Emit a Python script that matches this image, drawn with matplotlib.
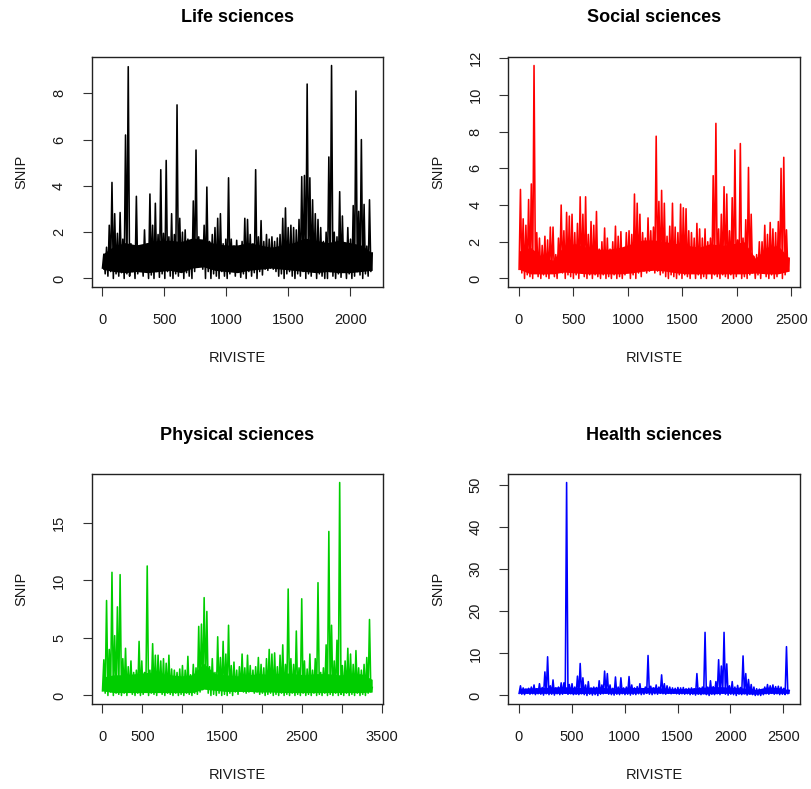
import matplotlib
matplotlib.use('Agg')
import matplotlib.pyplot as plt
import numpy as np

plt.rcParams['font.family'] = ['Liberation Sans', 'DejaVu Sans']

# number of journals per area
n_life = 2175
n_social = 2480
n_physical = 3380
n_health = 2557

# SNIP, low / high pairs along the journals
life_snip = [
    0.45, 1.05, 0.2, 1.35, 0.1, 2.3, 0.3, 4.15, 0.0, 2.8, 0.2, 1.95, 0.1, 2.85, 0.25, 1.7,
    0.0, 6.2, 0.2, 9.15, 0.1, 1.5, 0.3, 1.3, 0.0, 3.55, 0.2, 1.4, 0.35, 1.2, 0.1, 2.1,
    0.4, 1.5, 0.0, 3.65, 0.15, 2.3, 0.0, 3.25, 0.3, 1.9, 0.05, 4.7, 0.2, 1.95, 0.0, 5.1,
    0.3, 1.8, 0.1, 2.8, 0.0, 1.9, 0.2, 7.5, 0.1, 2.6, 0.3, 2.0, 0.0, 2.1, 0.25, 1.7,
    0.1, 1.6, 0.0, 3.35, 0.3, 5.55, 0.5, 1.8, 0.7, 1.5, 0.4, 2.3, 0.0, 3.95, 0.3, 1.6,
    0.0, 1.9, 0.2, 2.2, 0.1, 2.6, 0.0, 2.8, 0.3, 1.5, 0.1, 1.7, 0.0, 4.35, 0.2, 1.7,
    0.4, 1.4, 0.1, 1.65, 0.3, 1.3, 0.05, 1.6, 0.2, 2.6, 0.0, 2.55, 0.3, 1.9, 0.1, 1.5,
    0.25, 4.7, 0.0, 1.8, 0.3, 2.5, 0.15, 1.6, 0.4, 1.9, 0.35, 1.7, 0.45, 1.8, 0.4, 1.6,
    0.3, 1.75, 0.1, 1.9, 0.2, 2.6, 0.0, 3.05, 0.2, 2.2, 0.3, 2.3, 0.1, 2.2, 0.0, 2.1,
    0.2, 2.55, 0.1, 4.4, 0.3, 4.45, 0.0, 8.4, 0.2, 4.35, 0.1, 3.4, 0.3, 2.8, 0.0, 2.55,
    0.2, 2.2, 0.1, 1.6, 0.0, 2.0, 0.0, 5.25, 0.3, 9.2, 0.1, 2.0, 0.0, 1.8, 0.2, 3.75,
    0.05, 2.7, 0.3, 1.5, 0.0, 2.2, 0.2, 1.7, 0.0, 3.15, 0.1, 8.1, 0.3, 2.9, 0.15, 6.0,
    0.0, 3.2, 0.2, 1.4, 0.1, 3.4, 0.3, 1.1,
]

social_snip = [
    0.5, 4.85, 0.3, 3.25, 0.0, 2.9, 0.2, 4.3, 0.1, 5.15, 0.0, 11.6, 0.3, 2.5, 0.1, 2.2,
    0.0, 1.8, 0.2, 2.3, 0.1, 2.1, 0.0, 2.8, 0.3, 2.8, 0.1, 1.3, 0.0, 2.2, 0.4, 4.0,
    0.3, 2.6, 0.0, 3.6, 0.2, 3.4, 0.1, 3.5, 0.0, 2.5, 0.2, 3.0, 0.0, 4.45, 0.3, 3.5,
    0.1, 4.45, 0.0, 2.4, 0.2, 3.1, 0.0, 2.9, 0.2, 3.65, 0.1, 1.6, 0.0, 2.0, 0.2, 2.75,
    0.0, 2.2, 0.1, 1.6, 0.0, 2.0, 0.2, 2.85, 0.0, 2.3, 0.1, 2.55, 0.0, 1.6, 0.2, 2.5,
    0.4, 2.6, 0.0, 2.4, 0.2, 4.6, 0.0, 4.1, 0.3, 3.5, 0.1, 2.5, 0.4, 2.2, 0.3, 3.3,
    0.4, 2.6, 0.5, 2.8, 0.3, 7.75, 0.4, 4.2, 0.2, 4.8, 0.3, 4.1, 0.1, 2.3, 0.0, 2.85,
    0.2, 4.1, 0.1, 2.8, 0.0, 2.5, 0.2, 4.05, 0.0, 3.85, 0.2, 3.8, 0.1, 2.6, 0.0, 2.5,
    0.3, 2.2, 0.0, 3.0, 0.2, 2.7, 0.0, 2.2, 0.1, 2.7, 0.0, 2.0, 0.3, 2.2, 0.0, 5.6,
    0.2, 8.45, 0.1, 2.7, 0.0, 3.5, 0.2, 5.0, 0.1, 4.6, 0.0, 2.6, 0.2, 4.4, 0.0, 7.0,
    0.1, 2.1, 0.3, 7.35, 0.0, 2.2, 0.1, 3.2, 0.0, 6.05, 0.2, 3.5, 0.3, 1.2, 0.0, 1.3,
    0.2, 2.0, 0.0, 2.0, 0.3, 2.9, 0.1, 2.4, 0.0, 3.05, 0.2, 2.7, 0.0, 2.5, 0.1, 3.1,
    0.3, 6.0, 0.0, 6.6, 0.2, 2.65, 0.4, 1.1,
]

physical_snip = [
    0.4, 3.1, 0.2, 8.25, 0.0, 4.0, 0.3, 10.7, 0.0, 5.2, 0.2, 7.7, 0.1, 10.5, 0.0, 3.2,
    0.2, 4.1, 0.0, 2.5, 0.3, 3.0, 0.1, 2.0, 0.0, 2.2, 0.2, 4.7, 0.0, 3.0, 0.1, 2.0,
    0.3, 11.25, 0.0, 2.2, 0.2, 4.5, 0.1, 3.5, 0.0, 3.5, 0.3, 3.0, 0.1, 3.2, 0.0, 2.8,
    0.2, 3.5, 0.1, 2.3, 0.0, 2.2, 0.2, 2.0, 0.0, 2.3, 0.1, 2.6, 0.0, 2.2, 0.2, 3.4,
    0.1, 1.8, 0.0, 2.7, 0.2, 2.4, 0.1, 6.0, 0.3, 6.2, 0.5, 8.5, 0.7, 7.3, 0.2, 2.5,
    0.0, 3.2, 0.1, 2.0, 0.0, 5.1, 0.2, 3.3, 0.0, 4.7, 0.1, 3.6, 0.0, 6.1, 0.2, 2.6,
    0.0, 2.9, 0.3, 2.2, 0.1, 2.5, 0.4, 3.6, 0.3, 2.4, 0.2, 3.5, 0.3, 2.6, 0.4, 2.2,
    0.2, 2.5, 0.3, 3.3, 0.1, 2.7, 0.2, 2.4, 0.0, 3.2, 0.1, 4.0, 0.2, 3.6, 0.0, 3.7,
    0.1, 2.5, 0.0, 3.5, 0.2, 4.4, 0.0, 2.7, 0.1, 9.25, 0.0, 3.2, 0.2, 2.7, 0.0, 5.6,
    0.1, 2.4, 0.0, 8.4, 0.2, 3.0, 0.0, 2.3, 0.1, 3.6, 0.0, 2.2, 0.2, 3.2, 0.0, 9.8,
    0.1, 2.0, 0.0, 2.4, 0.2, 4.4, 0.0, 14.25, 0.1, 6.1, 0.0, 3.0, 0.2, 4.8, 0.0, 18.5,
    0.1, 2.6, 0.0, 3.0, 0.2, 4.1, 0.0, 3.6, 0.1, 2.7, 0.0, 3.9, 0.2, 2.4, 0.0, 2.2,
    0.1, 2.7, 0.0, 3.3, 0.2, 6.6, 0.3, 0.7,
]

health_snip = [
    0.5, 2.3, 0.3, 1.8, 0.2, 1.5, 0.5, 1.7, 0.3, 2.0, 0.4, 2.5, 0.2, 1.6, 0.4, 2.8,
    0.3, 1.9, 0.1, 5.6, 0.4, 9.2, 0.2, 2.3, 0.3, 3.7, 0.1, 1.8, 0.4, 2.0, 0.2, 3.0,
    0.3, 3.0, 0.5, 50.6, 0.3, 2.6, 0.4, 2.8, 0.2, 2.0, 0.3, 4.6, 0.2, 7.6, 0.4, 4.2,
    0.2, 2.5, 0.0, 3.3, 0.3, 1.8, 0.1, 2.0, 0.2, 1.9, 0.0, 3.5, 0.3, 2.5, 0.4, 5.8,
    0.5, 5.2, 0.3, 2.5, 0.2, 1.7, 0.1, 4.4, 0.3, 2.0, 0.2, 4.2, 0.4, 1.8, 0.2, 2.0,
    0.3, 4.5, 0.1, 2.5, 0.3, 1.8, 0.2, 2.1, 0.4, 2.8, 0.2, 1.6, 0.3, 2.0, 0.5, 9.5,
    0.3, 2.2, 0.2, 1.8, 0.4, 2.5, 0.3, 2.0, 0.5, 4.9, 0.4, 2.8, 0.3, 2.3, 0.5, 2.0,
    0.4, 1.8, 0.5, 1.7, 0.4, 1.9, 0.3, 1.8, 0.4, 1.9, 0.3, 1.6, 0.4, 1.7, 0.2, 1.8,
    0.3, 1.6, 0.1, 5.2, 0.3, 1.8, 0.2, 2.0, 0.4, 15.0, 0.2, 2.0, 0.0, 3.5, 0.3, 2.1,
    0.2, 3.3, 0.4, 8.5, 0.2, 7.0, 0.5, 15.0, 0.3, 7.5, 0.1, 2.3, 0.3, 3.3, 0.2, 2.0,
    0.0, 2.4, 0.3, 1.9, 0.2, 9.4, 0.4, 5.2, 0.1, 3.8, 0.3, 2.6, 0.2, 2.0, 0.0, 1.6,
    0.1, 1.5, 0.0, 1.4, 0.2, 2.0, 0.4, 2.6, 0.3, 2.3, 0.5, 2.5, 0.3, 2.1, 0.4, 2.2,
    0.2, 2.0, 0.3, 1.7, 0.2, 11.6, 0.4, 1.2,
]

# dense middle of each band (where the line overlaps into a solid strip)
life_core_lo = [0.4, 0.3, 0.25, 0.3, 0.25, 0.3, 0.35, 0.25, 0.45, 0.5, 0.35, 0.3,
                0.25, 0.35, 0.4, 0.45, 0.4, 0.35, 0.3, 0.25, 0.3, 0.25, 0.25, 0.3, 0.35]
life_core_hi = [1.05, 1.4, 1.55, 1.45, 1.55, 1.65, 1.65, 1.6, 1.75, 1.7, 1.5, 1.45,
                1.45, 1.55, 1.45, 1.35, 1.45, 1.55, 1.75, 1.65, 1.55, 1.65, 1.55, 1.45, 1.1]
social_core_lo = [0.5, 0.25, 0.25, 0.25, 0.35, 0.3, 0.25, 0.25, 0.25, 0.25, 0.3, 0.4,
                  0.45, 0.4, 0.3, 0.25, 0.25, 0.25, 0.25, 0.25, 0.25, 0.3, 0.25, 0.25, 0.4]
social_core_hi = [1.5, 1.7, 1.2, 1.0, 1.8, 1.9, 1.7, 1.6, 1.6, 1.7, 1.9, 2.1,
                  2.1, 2.0, 1.9, 1.8, 1.7, 1.9, 1.8, 1.9, 2.0, 1.1, 1.7, 1.8, 1.1]
physical_core_lo = [0.4, 0.25, 0.25, 0.25, 0.25, 0.25, 0.25, 0.25, 0.25, 0.55, 0.45, 0.35,
                    0.35, 0.35, 0.3, 0.3, 0.25, 0.25, 0.25, 0.25, 0.25, 0.25, 0.25, 0.25, 0.3]
physical_core_hi = [1.6, 1.8, 1.8, 1.9, 2.0, 1.9, 1.8, 1.7, 1.8, 2.8, 1.9, 1.8,
                    1.7, 1.8, 1.9, 1.8, 2.0, 1.9, 1.8, 1.9, 1.9, 1.8, 1.8, 1.9, 1.4]
health_core_lo = [0.5, 0.5, 0.5, 0.5, 0.5, 0.4, 0.5, 0.5, 0.5, 0.5, 0.5, 0.6,
                  0.6, 0.5, 0.5, 0.5, 0.4, 0.4, 0.5, 0.5, 0.4, 0.3, 0.5, 0.5, 0.5]
health_core_hi = [1.7, 1.8, 1.9, 2.0, 2.1, 1.9, 1.9, 2.0, 1.8, 1.8, 1.9, 1.9,
                  2.0, 1.7, 1.6, 1.7, 1.9, 2.1, 2.1, 1.9, 1.8, 1.4, 2.0, 1.9, 1.4]

titles = ['Life sciences', 'Social sciences', 'Physical sciences', 'Health sciences']
colors = ['black', '#FF0000', '#00CD00', '#0000FF']
counts = [n_life, n_social, n_physical, n_health]
series = [life_snip, social_snip, physical_snip, health_snip]
cores = [(life_core_lo, life_core_hi), (social_core_lo, social_core_hi),
         (physical_core_lo, physical_core_hi), (health_core_lo, health_core_hi)]
y_ticks = [[0, 2, 4, 6, 8], [0, 2, 4, 6, 8, 10, 12], [0, 5, 10, 15], [0, 10, 20, 30, 40, 50]]
x_max_tick = [2000, 2500, 3500, 2500]
x_hidden = [[], [], [1000, 2000, 3000], []]

# panel boxes in pixels: left, top, right, bottom
W, H = 811, 789
boxes = [(91.7, 57, 383, 287), (508.3, 57, 800, 287),
         (91.7, 474, 383, 704), (508.3, 474, 800, 704)]

fig = plt.figure(figsize=(W / 100, H / 100), dpi=100)

for i in range(4):
    l, t, r, b = boxes[i]
    ax = fig.add_axes([l / W, 1 - b / H, (r - l) / W, (b - t) / H])
    y = np.array(series[i])
    n = counts[i]
    x = np.linspace(1, n, len(y))
    c_lo, c_hi = cores[i]
    xc = np.linspace(1, n, len(c_lo))
    ax.fill_between(xc, c_lo, c_hi, color=colors[i], lw=0)
    ax.plot(x, y, color=colors[i], lw=1.15)

    # R style 4% padding
    ax.set_xlim(1 - 0.04 * (n - 1), n + 0.04 * (n - 1))
    rng = y.max() - y.min()
    ax.set_ylim(y.min() - 0.04 * rng, y.max() + 0.04 * rng)

    xt = list(range(0, x_max_tick[i] + 1, 500))
    ax.set_xticks(xt)
    ax.set_xticklabels(['' if v in x_hidden[i] else str(v) for v in xt])
    ax.set_yticks(y_ticks[i])
    ax.set_yticklabels([str(v) for v in y_ticks[i]], rotation=90, va='center')

    ax.tick_params(direction='out', length=6.5, width=0.8, labelsize=10.5,
                   color='#333333', labelcolor='#1a1a1a')
    ax.tick_params(axis='x', pad=12.5)
    ax.tick_params(axis='y', pad=12)
    for sp in ax.spines.values():
        sp.set_linewidth(1.0)
        sp.set_color('#222222')

    h_px = b - t
    w_px = r - l
    ax.text(0.5, 1 + 39 / h_px, titles[i], transform=ax.transAxes, ha='center',
            va='center', fontsize=13, fontweight='bold')
    ax.text(0.5, -71 / h_px, 'RIVISTE', transform=ax.transAxes, ha='center',
            va='center', fontsize=10.5, color='#1a1a1a')
    ax.text(-70 / w_px, 0.5, 'SNIP', transform=ax.transAxes, ha='center',
            va='center', rotation=90, fontsize=10.5, color='#1a1a1a')

fig.savefig('out.png', dpi=100)
